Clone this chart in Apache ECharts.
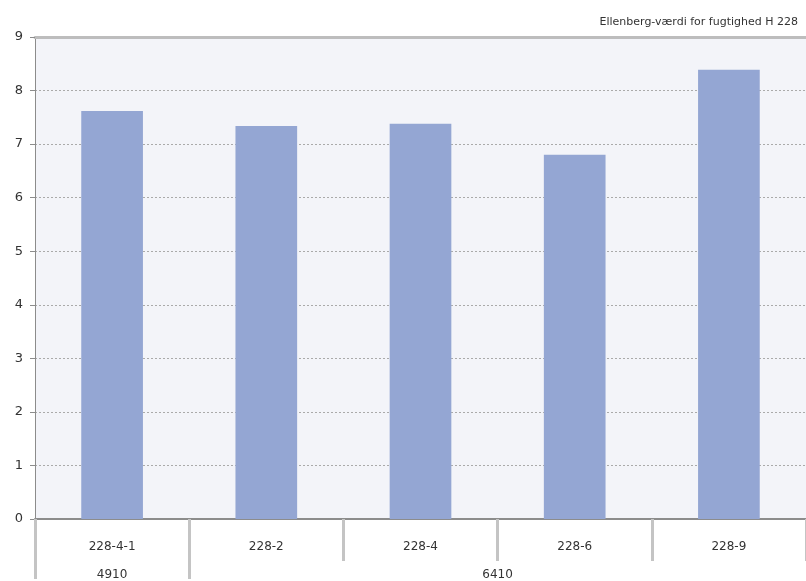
<!DOCTYPE html>
<html>
<head>
<meta charset="utf-8">
<script src="https://cdn.jsdelivr.net/npm/echarts@6/dist/echarts.min.js"></script>
<style>
  html, body { margin: 0; padding: 0; background: #ffffff; }
  #chart { width: 806px; height: 581px; }
</style>
</head>
<body>
<div id="chart"></div>
<script>
// Plots and their Ellenberg moisture values
const plots = ['228-4-1', '228-2', '228-4', '228-6', '228-9'];
const moisture = [7.62, 7.34, 7.38, 6.80, 8.39];

// Habitat groups below the plot labels: [label, first plot index, plot count]
const habitatGroups = [['4910', 0, 1], ['6410', 1, 4]];

const yTicks = [0, 1, 2, 3, 4, 5, 6, 7, 8, 9];

const titleText = 'Ellenberg-værdi for fugtighed H 228';

const font = 'DejaVu Sans, Verdana, sans-serif';

// Group label positions (centres) and boundaries in plot-index units
const groupCentres = habitatGroups.map(g => g[1] + g[2] / 2);
const groupBounds = habitatGroups.map(g => g[1]);
const groupLabel = {};
habitatGroups.forEach((g, i) => { groupLabel[groupCentres[i]] = g[0]; });

const chart = echarts.init(document.getElementById('chart'), null, { renderer: 'canvas' });

chart.setOption({
  animation: false,
  backgroundColor: '#ffffff',
  title: {
    text: titleText,
    right: 3,
    top: 12,
    textStyle: { fontFamily: font, fontSize: 11, fontWeight: 'normal', color: '#333' }
  },
  grid: {
    left: 35, right: -2, top: 37, bottom: 62,
    show: true, backgroundColor: '#f3f4f9', borderWidth: 0
  },
  xAxis: [
    {
      type: 'category',
      data: plots,
      position: 'bottom',
      axisLine: { lineStyle: { color: '#8c8c8c', width: 2 } },
      axisTick: { show: true, length: 42, lineStyle: { color: '#c4c4c4', width: 3 } },
      axisLabel: { fontFamily: font, fontSize: 12, color: '#333', margin: 22 }
    },
    {
      type: 'value',
      min: 0,
      max: plots.length,
      position: 'bottom',
      axisLine: { show: false },
      splitLine: { show: false },
      axisTick: {
        show: true, length: 60, customValues: groupBounds,
        lineStyle: { color: '#c4c4c4', width: 3 }
      },
      axisLabel: {
        customValues: groupCentres,
        formatter: v => groupLabel[v] || '',
        fontFamily: font, fontSize: 12, color: '#333', margin: 50
      }
    },
    {
      // top border of the plot area
      type: 'category',
      data: plots,
      position: 'top',
      axisLine: { lineStyle: { color: '#bdbdbd', width: 3 } },
      axisTick: { show: false },
      axisLabel: { show: false }
    }
  ],
  yAxis: {
    type: 'value',
    min: yTicks[0],
    max: yTicks[yTicks.length - 1],
    interval: 1,
    axisLine: { show: true, lineStyle: { color: '#8c8c8c', width: 1 } },
    axisTick: { show: true, length: 5, lineStyle: { color: '#8c8c8c' } },
    axisLabel: { fontFamily: font, fontSize: 13, color: '#333', margin: 12 },
    splitLine: { show: true, lineStyle: { color: '#aaaaaa', type: [2, 2], width: 1 } }
  },
  series: [{
    type: 'bar',
    xAxisIndex: 0,
    data: moisture,
    barWidth: '40%',
    itemStyle: { color: '#94a6d3' }
  }]
});
</script>
</body>
</html>
